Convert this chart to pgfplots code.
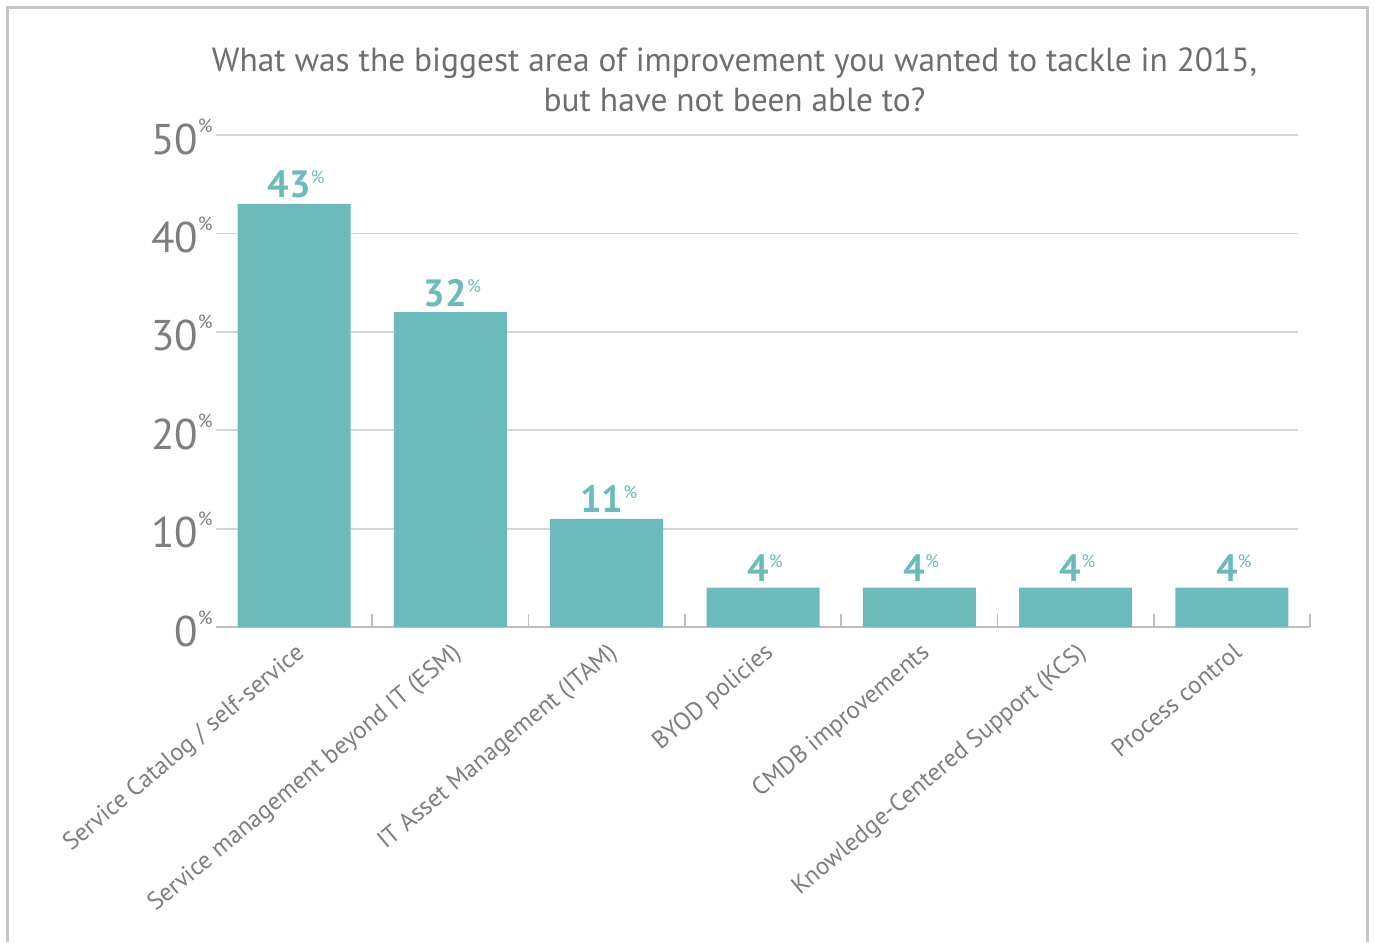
\documentclass[border=0pt]{standalone}
\usepackage{fontspec}
\setmainfont{PT Sans}
\usepackage{pgfplots}
\pgfplotsset{compat=1.18}

\definecolor{barteal}{RGB}{108,187,188}
\definecolor{txtgray}{RGB}{109,110,113}
\definecolor{lblgray}{RGB}{125,126,129}
\definecolor{gridgray}{RGB}{212,212,214}
\definecolor{axisgray}{RGB}{190,190,193}
\definecolor{framegray}{RGB}{198,198,200}

\begin{document}
\begin{tikzpicture}
% 1px of the reference = 0.5pt
\path[use as bounding box] (0,0) rectangle (687.5pt,471pt);
\draw[framegray, line width=1.5pt] (3.75pt,0pt) -- (3.75pt,467pt) -- (683.75pt,467pt) -- (683.75pt,0pt);

\node[anchor=base, inner sep=0pt, font=\fontsize{16.7}{20}\selectfont, text=txtgray]
  at (367.25pt,435pt) {What was the biggest area of improvement you wanted to tackle in 2015,};
\node[anchor=base, inner sep=0pt, font=\fontsize{16.7}{20}\selectfont, text=txtgray]
  at (367.25pt,415pt) {but have not been able to?};

\begin{axis}[
    at={(108pt,157.5pt)}, anchor=south west,
    scale only axis, width=547pt, height=246pt,
    xmin=-0.5, xmax=6.5, ymin=0, ymax=50,
    clip=false,
    axis lines*=left,
    y axis line style={draw=none},
    x axis line style={axisgray, line width=1pt},
    /pgf/number format/assume math mode=true,
    ytick={0,10,...,50},
    ytick style={draw=none},
    yticklabel={\pgfmathprintnumber{\tick}\raisebox{11pt}{\fontsize{9.5}{9.5}\selectfont\%}},
    yticklabel style={anchor=base east, inner sep=0pt, xshift=-1.5pt, yshift=-9.5pt,
      text=lblgray, font=\fontsize{21.5}{21.5}\selectfont},
    xtick={0,...,6},
    xtick style={draw=none},
    xticklabels={Service Catalog / self-service, Service management beyond IT (ESM),
      IT Asset Management (ITAM), BYOD policies, CMDB improvements,
      Knowledge-Centered Support (KCS), Process control},
    xticklabel style={rotate=40, anchor=north east, inner sep=0pt, xshift=-4.5pt, yshift=-5.4pt,
      text=lblgray, font=\fontsize{12.4}{12.4}\selectfont},
    extra x ticks={0.5,1.5,...,6.5},
    extra x tick labels={},
    extra x tick style={xtick style={draw=axisgray, line width=0.8pt},
      major tick length=6.5pt, tick align=inside},
  ]
  \pgfplotsinvokeforeach{10,20,30,40,50}{
    \draw[gridgray, line width=0.9pt] (axis cs:-0.5,#1) -- (axis cs:6.42,#1);
  }
  \addplot[ybar, bar width=56.5pt, fill=barteal, draw=none,
    nodes near coords={{\bfseries\pgfmathprintnumber{\pgfplotspointmeta}}\raisebox{7pt}{\fontsize{9}{9}\selectfont\%}},
    nodes near coords style={anchor=base, inner sep=0pt, yshift=3pt, xshift=1pt, text=barteal,
      font=\fontsize{19}{19}\selectfont}]
    coordinates {(0,43) (1,32) (2,11) (3,4) (4,4) (5,4) (6,4)};
\end{axis}
\end{tikzpicture}
\end{document}
